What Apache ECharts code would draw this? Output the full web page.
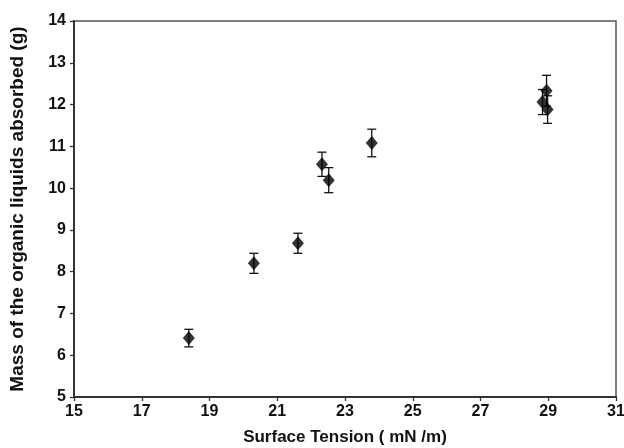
<!DOCTYPE html>
<html><head><meta charset="utf-8">
<script src="https://cdn.jsdelivr.net/npm/echarts@6/dist/echarts.min.js"></script>
<style>html,body{margin:0;padding:0;background:#fff}#c{width:624px;height:448px}</style>
</head><body><div id="c"></div>
<script>
const surfaceTension = [18.39, 20.31, 21.61, 22.32, 22.52, 23.79, 28.83, 28.95, 28.98];
const massAbsorbed   = [6.41, 8.20, 8.68, 10.57, 10.19, 11.08, 12.06, 12.33, 11.88];
const errorValues    = [0.21, 0.24, 0.24, 0.29, 0.30, 0.33, 0.30, 0.37, 0.33];
const xTicks = [15, 17, 19, 21, 23, 25, 27, 29, 31];
const yTicks = [5, 6, 7, 8, 9, 10, 11, 12, 13, 14];

const pts = surfaceTension.map((x, i) => [x, massAbsorbed[i]]);
const errs = surfaceTension.map((x, i) => [x, massAbsorbed[i] - errorValues[i], massAbsorbed[i] + errorValues[i]]);
const font = 'Liberation Sans, Arial, sans-serif';

const chart = echarts.init(document.getElementById('c'), null, {renderer: 'canvas'});
chart.setOption({
  animation: false,
  grid: {left: 74, right: 8, top: 21, bottom: 51, outerBoundsMode: 'none', containLabel: false,
         show: true, borderColor: '#555', borderWidth: 1.5, backgroundColor: 'transparent'},
  xAxis: {
    type: 'value', min: xTicks[0], max: xTicks[xTicks.length - 1], interval: 2,
    name: 'Surface Tension ( mN /m)', nameLocation: 'middle', nameGap: 32,
    nameTextStyle: {fontFamily: font, fontWeight: 'bold', fontSize: 17, color: '#111'},
    axisLine: {show: true, onZero: false, lineStyle: {color: '#333', width: 2}},
    axisTick: {show: true, inside: false, length: 4, lineStyle: {color: '#333', width: 1.3}},
    axisLabel: {fontFamily: font, fontWeight: 'bold', fontSize: 16, color: '#111', margin: 7},
    splitLine: {show: false}
  },
  yAxis: {
    type: 'value', min: yTicks[0], max: yTicks[yTicks.length - 1], interval: 1,
    name: 'Mass of the organic liquids absorbed (g)', nameLocation: 'middle', nameGap: 47,
    nameTextStyle: {fontFamily: font, fontWeight: 'bold', fontSize: 19, color: '#111'},
    axisLine: {show: true, onZero: false, lineStyle: {color: '#333', width: 2}},
    axisTick: {show: true, inside: false, length: 4, lineStyle: {color: '#333', width: 1.3}},
    axisLabel: {fontFamily: font, fontWeight: 'bold', fontSize: 16, color: '#111', margin: 8},
    splitLine: {show: false}
  },
  series: [
    {
      type: 'custom',
      data: errs,
      renderItem: function (params, api) {
        const x = api.value(0);
        const lo = api.coord([x, api.value(1)]);
        const hi = api.coord([x, api.value(2)]);
        const w = 4.5;
        const st = {stroke: '#111', lineWidth: 1.3};
        return {type: 'group', children: [
          {type: 'line', shape: {x1: lo[0], y1: lo[1], x2: hi[0], y2: hi[1]}, style: st},
          {type: 'line', shape: {x1: lo[0] - w, y1: lo[1], x2: lo[0] + w, y2: lo[1]}, style: st},
          {type: 'line', shape: {x1: hi[0] - w, y1: hi[1], x2: hi[0] + w, y2: hi[1]}, style: st}
        ]};
      },
      z: 2
    },
    {
      type: 'scatter',
      data: pts,
      symbol: 'diamond',
      symbolSize: [12, 14],
      itemStyle: {color: '#000'},
      z: 3
    }
  ]
});
</script></body></html>
